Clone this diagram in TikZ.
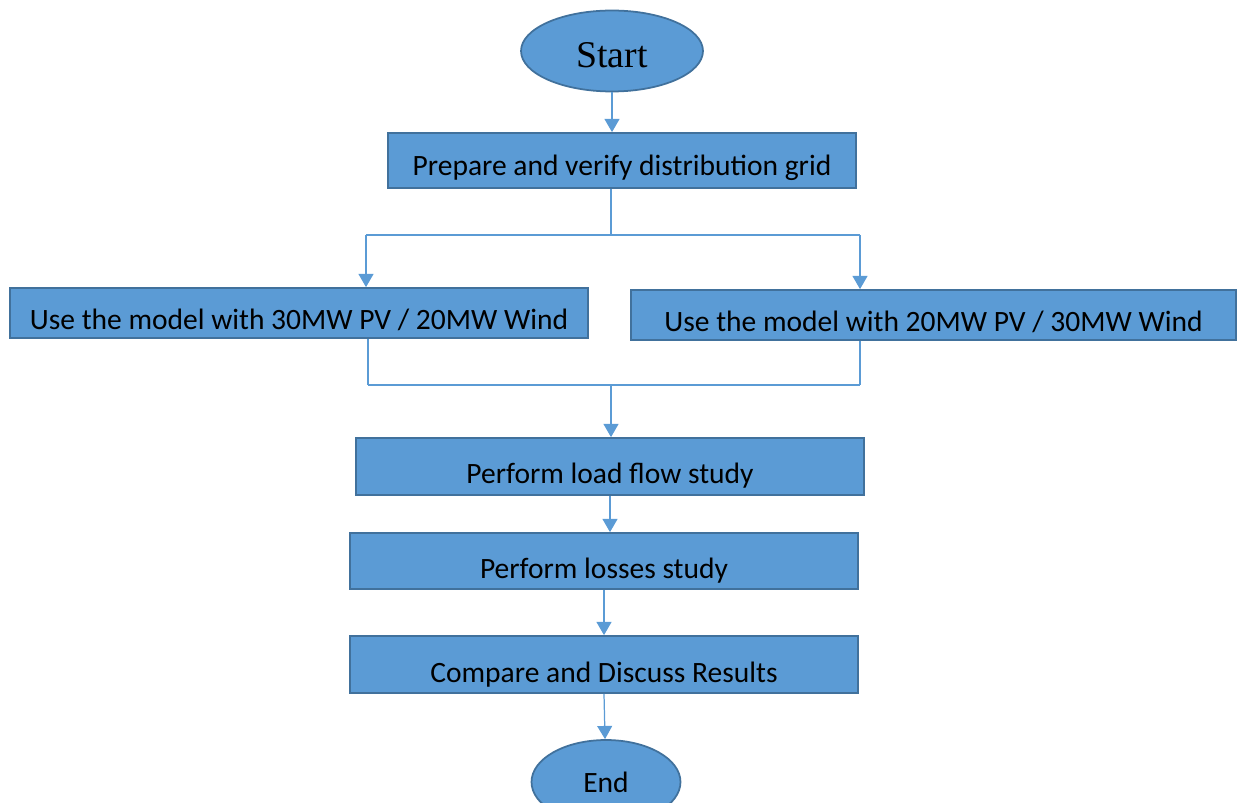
\documentclass[tikz,border=0pt]{standalone}
\usepackage{fontspec}
\setmainfont{Carlito}
\newfontfamily\termfont{Liberation Serif}
\usetikzlibrary{arrows.meta,shapes.geometric,calc}
\definecolor{fc_fill}{RGB}{91, 155, 213}
\definecolor{fc_edge}{RGB}{65, 113, 156}
\definecolor{fc_line}{RGB}{91, 155, 213}
\tikzstyle{pn}=[rectangle,fill=fc_fill,draw=fc_edge,line width=1pt,
  inner sep=0pt,anchor=base,font=\fontsize{16.8}{20}\selectfont]
\tikzstyle{tn}=[ellipse,fill=fc_fill,draw=fc_edge,line width=1pt,
  inner sep=0pt,font=\fontsize{16.8}{20}\selectfont]
\tikzstyle{none}=[]
\tikzstyle{ln}=[draw=fc_line,line width=0.7pt]
\tikzstyle{ar}=[ln,-{Triangle[length=7.5pt,width=8.5pt]}]

\begin{document}
\begin{tikzpicture}[x=0.02cm,y=-0.02cm]
            \useasboundingbox (0, 0) rectangle (1240, 803);
            \node [style=tn,minimum width=3.64cm,minimum height=1.62cm,
              font=\termfont\fontsize{21.5}{24}\selectfont,text height=0.66cm] (0) at (612, 51) {Start};
            \node [style=pn,minimum width=9.36cm,text height=0.86cm,text depth=0.24cm] (1) at (622, 176) {Prepare and verify distribution grid};
            \node [style=pn,minimum width=11.56cm,text height=0.84cm,text depth=0.16cm] (2) at (299, 330) {Use the model with 30MW PV / 20MW Wind};
            \node [style=pn,minimum width=12.1cm,text height=0.84cm,text depth=0.16cm] (3) at (933.5, 332) {Use the model with 20MW PV / 30MW Wind};
            \node [style=pn,minimum width=10.16cm,text height=0.9cm,text depth=0.24cm] (4) at (610, 483) {Perform load flow study};
            \node [style=pn,minimum width=10.16cm,text height=0.9cm,text depth=0.22cm] (5) at (604, 578) {Perform losses study};
            \node [style=pn,minimum width=10.16cm,text height=0.92cm,text depth=0.22cm] (6) at (604, 682) {Compare and Discuss Results};
            \node [style=tn,minimum width=2.98cm,minimum height=1.68cm] (7) at (606, 782) {End};
            \node [style=none] (8) at (611, 235) {};
            \node [style=none] (9) at (366, 235) {};
            \node [style=none] (10) at (860, 235) {};
            \node [style=none] (11) at (368, 385) {};
            \node [style=none] (12) at (860, 385) {};
            \node [style=none] (13) at (611, 385) {};
            \draw [style=ar] (0) to (0 |- 1.north);
            \draw [style=ln] (1.south -| 8.center) to (8.center);
            \draw [style=ln] (9.center) to (10.center);
            \draw [style=ar] (9.center) to (9.center |- 2.north);
            \draw [style=ar] (10.center) to (10.center |- 3.north);
            \draw [style=ln] (2.south -| 11.center) to (11.center);
            \draw [style=ln] (3.south -| 12.center) to (12.center);
            \draw [style=ln] (11.center) to (12.center);
            \draw [style=ar] (13.center) to (13.center |- 4.north);
            \draw [style=ar] (4.south) to (4.south |- 5.north);
            \draw [style=ar] (5.south) to (5.south |- 6.north);
            \draw [style=ar] (6.south) to (7);
    \end{tikzpicture}
\end{document}
